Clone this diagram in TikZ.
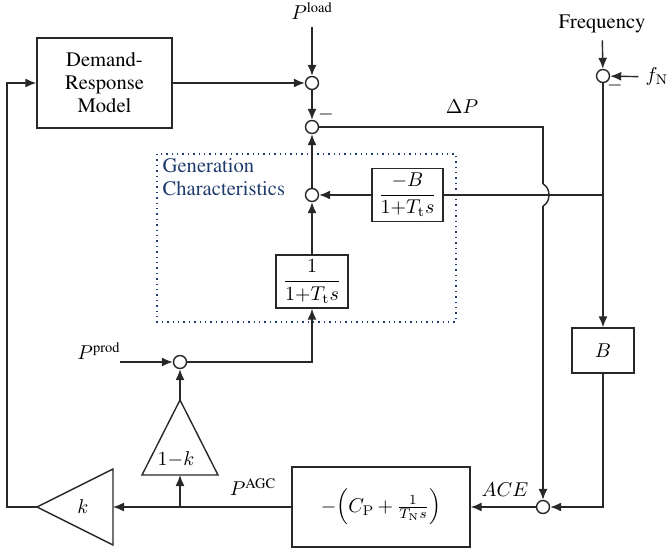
\documentclass[tikz,border=0pt]{standalone}
\usepackage{amsmath}
\usepackage[T1]{fontenc}
\usepackage{times}
\usetikzlibrary{arrows.meta,calc}
\definecolor{gcblue}{RGB}{30,60,110}
\definecolor{wire}{RGB}{40,40,40}

\begin{document}
\begin{tikzpicture}[x=0.5pt,y=-0.5pt,
  font=\fontsize{10.3}{11.5}\selectfont,
  line width=0.7pt, draw=wire,
  blk/.style={draw=wire, rectangle, inner sep=0pt, align=center},
  sumpt/.style={draw=wire, circle, minimum size=6.5pt, inner sep=0pt, fill=white},
  arr/.style={-{Latex[length=5.5pt,width=4.5pt]}}]
\useasboundingbox (0,0) rectangle (668,550);

% generation characteristics frame
\draw[gcblue, dotted, line width=0.7pt] (157,154) rectangle (456,322);
\node[gcblue, anchor=north west, align=left, inner sep=0pt] (gc) at (162,158) {Generation\\Characteristics};

% blocks and summing points
\node[blk, minimum width=67.5pt, minimum height=45pt] (dr) at (104.5,83) {Demand-\\Response\\Model};
\node[sumpt] (s1) at (312,83) {};
\node[sumpt] (s2) at (312,127) {};
\node[sumpt] (sg) at (312,195) {};
\node[blk, minimum width=35.5pt, minimum height=26.5pt] (gb) at (407.5,195) {$\dfrac{-B}{1{+}T_{\mathrm t}s}$};
\node[blk, minimum width=36pt, minimum height=26.5pt] (gt) at (312,281.5) {$\dfrac{1}{1{+}T_{\mathrm t}s}$};
\node[sumpt] (s3) at (180,362) {};
\node[sumpt] (s4) at (543,507) {};
\node[sumpt] (s5) at (603,76) {};
\node[blk, minimum width=31pt, minimum height=22.5pt] (bb) at (603,350.5) {$B$};
\node[blk, minimum width=89pt, minimum height=40pt] (cb) at (381,507) {$-\Bigl(C_{\mathrm P}\,{+}\,\frac{1}{T_{\mathrm N}s}\Bigr)$};

% gain triangles
\coordinate (ktip) at (37,507);
\coordinate (kb) at (113,507);
\draw (ktip) -- (113,469) -- (113,545) -- cycle;
\node (kl) at (83,507) {$k$};
\coordinate (tap) at (180,400);
\coordinate (tb) at (180,475);
\draw (tap) -- (218,475) -- (142,475) -- cycle;
\node (tl) at (176,459) {$1{-}k$};

% signal labels
\node (pload) at (312,11) {$P^{\text{load}}$};
\node (freq) at (602,24) {Frequency};
\node (fn) at (657,77) {$f_{\mathrm N}$};
\node (pprod) at (99,351) {$P^{\text{prod}}$};
\node (dp) at (462,107) {$\Delta P$};
\node (ace) at (505,490) {$ACE$};
\node (pagc) at (253,487) {$P^{\text{AGC}}$};
\node (m1) at (326,115) {$-$};
\node (m2) at (615,86) {$-$};

% connectors
\coordinate (ppin) at (120,362);
\coordinate (br) at (603,195);
\coordinate (dpc) at (543,127);
\coordinate (j1) at (543,184);
\coordinate (j2) at (543,206);
\coordinate (ptap) at (180,507);
\coordinate (fbc) at (7,507);

\draw[arr] (pload) -- (s1);
\draw[arr] (dr) -- (s1);
\draw[arr] (s1) -- (s2);
\draw[arr] (sg) -- (s2);
\draw[arr] (gt) -- (sg);
\draw[arr] (gb) -- (sg);
\draw (br) -- (gb);
\draw[arr] (ppin) -- (s3);
\draw[arr] (s3) -| (gt);
\draw[arr] (freq) -- (s5);
\draw[arr] (fn) -- (s5);
\draw[arr] (s5) -- (bb);
\draw[arr] (bb) |- (s4);
% Delta P line, hopping over the frequency-bias wire
\draw (s2) -- (dpc) -- (j1);
\draw (j1) .. controls (551,188) and (551,202) .. (j2);
\draw[arr] (j2) -- (s4);
\draw[arr] (s4) -- (cb);
\draw[arr] (cb) -- (kb);
\draw[arr] (ptap) -- (tb);
\draw[arr] (tap) -- (s3);
\draw[arr] (ktip) -- (fbc) |- (dr);
\end{tikzpicture}
\end{document}
